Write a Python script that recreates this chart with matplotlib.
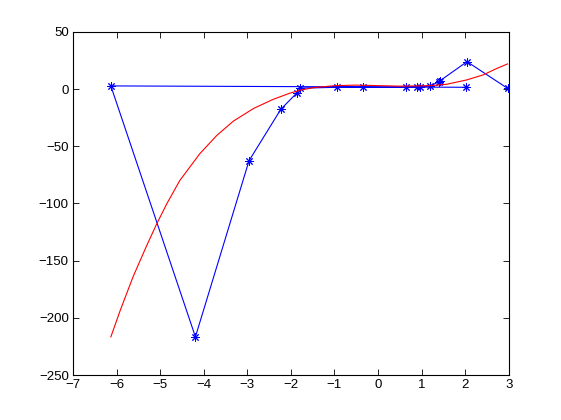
import matplotlib
matplotlib.use("Agg")
import matplotlib.pyplot as plt

# blue series, in drawing order
blue_x = [2.01, -6.13, -4.19, -2.96, -2.23, -1.87, -1.79, -0.94, -0.34,
          0.65, 0.90, 0.96, 1.19, 1.40, 1.43, 2.04, 2.97]
blue_y = [1.6, 2.8, -216.6, -62.6, -17.6, -3.6, 0.8, 1.6, 1.6,
          1.6, 2.0, 2.2, 2.8, 6.5, 7.5, 24.0, 0.7]

# red curve
red_x = [-6.13, -5.92, -5.62, -5.31, -5.08, -4.85, -4.55, -4.09, -3.70,
         -3.32, -2.86, -2.41, -2.02, -1.79, -1.5, -1.0, -0.5, 0.04, 0.5,
         1.19, 1.57, 2.03, 2.41, 2.72, 2.97]
red_y = [-216.6, -194.0, -164.0, -137.0, -118.0, -100.5, -80.0, -56.5, -40.5,
         -28.0, -17.0, -9.0, -3.5, -1.0, 1.2, 3.0, 3.5, 3.0, 2.6,
         3.0, 4.2, 8.0, 12.4, 18.0, 22.0]

xticks = [-7, -6, -5, -4, -3, -2, -1, 0, 1, 2, 3]
yticks = [-250, -200, -150, -100, -50, 0, 50]

plt.rcParams['font.family'] = ['Liberation Sans', 'DejaVu Sans']

fig = plt.figure(figsize=(5.61, 4.2), dpi=100)
ax = fig.add_axes([0.130, 0.107, 0.777, 0.817])

star = (8, 2, 0)
ax.plot(blue_x, blue_y, color=(0, 0, 1), lw=0.8, marker=star,
        markersize=6, markeredgewidth=0.7, markeredgecolor=(0, 0, 1))
ax.plot(red_x, red_y, color=(1, 0, 0), lw=0.8)

ax.set_xlim(-7, 3)
ax.set_ylim(-250, 50)
ax.set_xticks(xticks)
ax.set_yticks(yticks)
ax.tick_params(direction='in', top=True, right=True, length=4, width=0.6,
               labelsize=9.5, pad=3)
for s in ax.spines.values():
    s.set_linewidth(0.8)

fig.savefig("out.png", dpi=100)
